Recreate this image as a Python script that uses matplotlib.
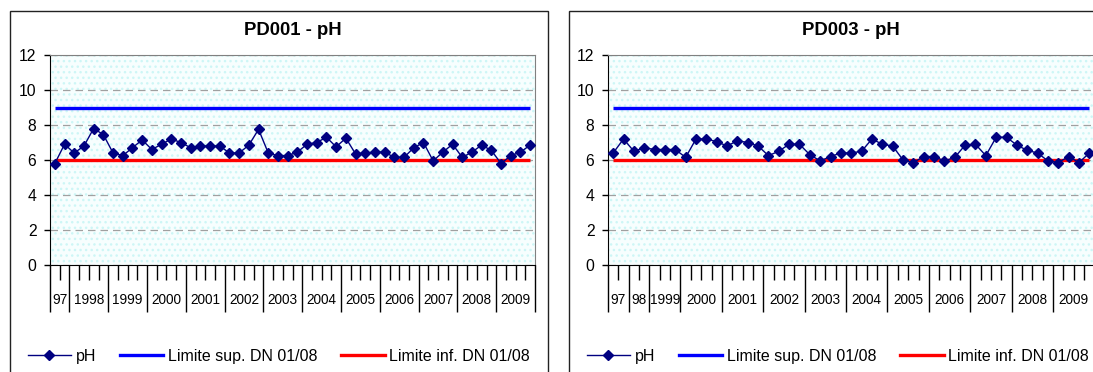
import matplotlib
matplotlib.use("Agg")
import matplotlib.pyplot as plt
from matplotlib.patches import Rectangle
from matplotlib.lines import Line2D

plt.rcParams['font.family'] = ['Liberation Sans', 'DejaVu Sans']
plt.rcParams['hatch.linewidth'] = 1.0

# ---- data (quarterly pH readings) ----
titles = ["PD001 - pH", "PD003 - pH"]

ph_pd001 = [5.8, 6.9, 6.4, 6.8, 7.8, 7.45, 6.4, 6.25, 6.7, 7.15,
            6.6, 6.9, 7.2, 7.0, 6.7, 6.8, 6.8, 6.8, 6.4, 6.4,
            6.85, 7.75, 6.4, 6.25, 6.25, 6.45, 6.9, 7.0, 7.3, 6.75,
            7.25, 6.35, 6.4, 6.45, 6.45, 6.15, 6.15, 6.7, 7.0, 5.95,
            6.45, 6.9, 6.15, 6.45, 6.85, 6.55, 5.8, 6.25, 6.45, 6.85]
years_pd001 = ["97", "1998", "1999", "2000", "2001", "2002", "2003",
               "2004", "2005", "2006", "2007", "2008", "2009"]
counts_pd001 = [2, 4, 4, 4, 4, 4, 4, 4, 4, 4, 4, 4, 4]

ph_pd003 = [6.4, 7.2, 6.5, 6.7, 6.6, 6.6, 6.6, 6.15, 7.2, 7.2,
            7.05, 6.8, 7.1, 7.0, 6.8, 6.25, 6.5, 6.9, 6.9, 6.3,
            5.95, 6.2, 6.4, 6.4, 6.5, 7.2, 6.9, 6.8, 6.0, 5.85,
            6.2, 6.2, 5.95, 6.15, 6.85, 6.9, 6.25, 7.3, 7.3, 6.85,
            6.55, 6.4, 5.95, 5.85, 6.2, 5.85, 6.4]
years_pd003 = ["97", "98", "1999", "2000", "2001", "2002", "2003",
               "2004", "2005", "2006", "2007", "2008", "2009"]
counts_pd003 = [2, 2, 3, 4, 4, 4, 4, 4, 4, 4, 4, 4, 4]

limit_sup = 9
limit_inf = 6
legend_labels = ["pH", "Limite sup. DN 01/08", "Limite inf. DN 01/08"]

W, H = 1093, 372
fig = plt.figure(figsize=(W / 100, H / 100), dpi=100)


def fx(px):
    return px / W


def fy(py):
    return 1 - py / H


def draw_chart(frame_x, ax_left, ax_width, title, values, years, counts):
    # outer chart frame
    fig.patches.append(Rectangle((fx(frame_x), fy(390)), fx(538), fy(11) - fy(390),
                                 transform=fig.transFigure, fill=False,
                                 edgecolor='#222222', linewidth=1.0, clip_on=False))
    ax = fig.add_axes([fx(ax_left), fy(265), fx(ax_width), fy(55) - fy(265)])
    ax.patch.set_facecolor('#f7fefe')
    ax.patch.set_hatch('...')
    ax.patch.set_edgecolor('#cdf6f6')

    n = len(values)
    xs = list(range(n))
    ax.plot(xs, [limit_sup] * n, color='#0000ff', lw=2.4, zorder=3,
            solid_capstyle='butt')
    ax.plot(xs, [limit_inf] * n, color='#ff0000', lw=2.4, zorder=3,
            solid_capstyle='butt')
    ax.plot(xs, values, color='#000080', lw=1.0, marker='D', ms=5.2,
            markerfacecolor='#000080', markeredgecolor='#000080', zorder=4)

    ax.set_xlim(-0.5, n - 0.5)
    ax.set_ylim(0, 12)
    ax.set_yticks([0, 2, 4, 6, 8, 10, 12])
    ax.yaxis.grid(True, color='#a0a0a0', linestyle=(0, (6, 4)), lw=0.9)
    ax.set_axisbelow(True)
    ax.tick_params(axis='y', direction='out', length=4.3, width=1, pad=5.5,
                   labelsize=11.3, colors='black')

    # category axis: short ticks per quarter, long ticks at year boundaries
    bounds = [i - 0.5 for i in range(n + 1)]
    year_bounds = [-0.5]
    for c in counts:
        year_bounds.append(year_bounds[-1] + c)
    ax.set_xticks(year_bounds)
    ax.set_xticklabels([])
    ax.set_xticks(bounds, minor=True)
    ax.tick_params(axis='x', which='major', direction='out', length=34, width=1)
    ax.tick_params(axis='x', which='minor', direction='out', length=11, width=1)
    for i, lab in enumerate(years):
        mid = (year_bounds[i] + year_bounds[i + 1]) / 2
        ax.text(mid, -0.167, lab, transform=ax.get_xaxis_transform(),
                ha='center', va='center', fontsize=9.8)

    for s in ['top', 'right']:
        ax.spines[s].set_color('#808080')
    for s in ['left', 'bottom']:
        ax.spines[s].set_color('black')

    ax.text(0.5, 1.117, title, transform=ax.transAxes, ha='center',
            va='center', fontsize=13.3, fontweight='bold')

    handles = [
        Line2D([], [], color='#000080', lw=1.0, marker='D', ms=5.2),
        Line2D([], [], color='#0000ff', lw=2.4),
        Line2D([], [], color='#ff0000', lw=2.4),
    ]
    ax.legend(handles, legend_labels, ncol=3, loc='center',
              bbox_to_anchor=(fx(frame_x + 269), fy(356.5)),
              bbox_transform=fig.transFigure, frameon=False,
              fontsize=11.5, handlelength=2.7, handletextpad=0.3,
              columnspacing=1.5)
    return ax


draw_chart(10, 50, 485, titles[0], ph_pd001, years_pd001, counts_pd001)
draw_chart(569, 608, 486.5, titles[1], ph_pd003, years_pd003, counts_pd003)

fig.savefig("out.png", dpi=100)
